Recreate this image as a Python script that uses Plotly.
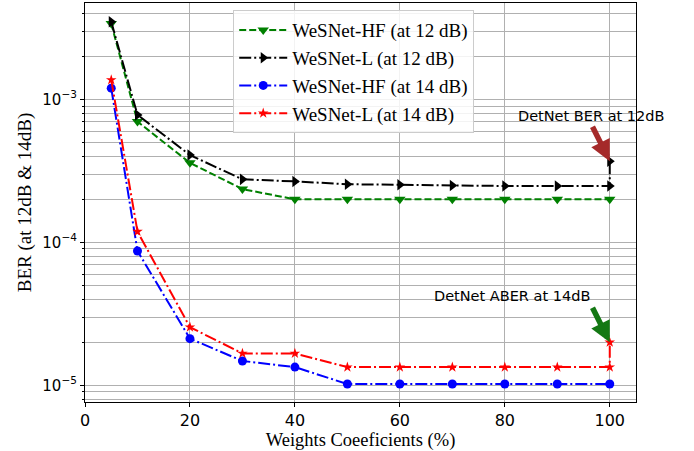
import math
import plotly.graph_objects as go

# Weight coefficients (%) kept in the compressed network
weights = [5, 10, 20, 30, 40, 50, 60, 70, 80, 90, 100]

# BER at 12 dB
hf_12 = [3.4e-3, 7.0e-4, 3.6e-4, 2.36e-4, 2.0e-4, 2.0e-4, 2.0e-4, 2.0e-4, 2.0e-4, 2.0e-4, 2.0e-4]
l_12 = [3.5e-3, 7.8e-4, 4.08e-4, 2.76e-4, 2.67e-4, 2.55e-4, 2.53e-4, 2.5e-4, 2.48e-4, 2.48e-4, 2.48e-4]

# BER at 14 dB
hf_14 = [1.2e-3, 8.7e-5, 2.12e-5, 1.48e-5, 1.34e-5, 1.02e-5, 1.02e-5, 1.02e-5, 1.02e-5, 1.02e-5, 1.02e-5]
l_14 = [1.37e-3, 1.19e-4, 2.55e-5, 1.67e-5, 1.67e-5, 1.34e-5, 1.34e-5, 1.34e-5, 1.34e-5, 1.34e-5, 1.34e-5]

# DetNet reference points (full network)
detnet_x = 100
detnet_ber_12 = 3.7e-4
detnet_aber_14 = 2.0e-5

y_ticks = [1e-5, 1e-4, 1e-3]
y_ticktext = ["10<sup>\u22125</sup>", "10<sup>\u22124</sup>", "10<sup>\u22123</sup>"]
y_minor = [m * 10.0 ** e for e in range(-6, -1) for m in range(2, 10)]
x_ticks = [0, 20, 40, 60, 80, 100]

serif = "Liberation Serif"
sans = "DejaVu Sans"

dashdot = "12px,3px,2px,3px"

fig = go.Figure()

fig.add_trace(go.Scatter(
    x=weights, y=hf_12, name="WeSNet-HF (at 12 dB)", mode="lines+markers",
    line=dict(color="green", width=2, dash="7px,3px"),
    marker=dict(symbol="triangle-down", size=10, color="green"),
))
fig.add_trace(go.Scatter(
    x=weights + [detnet_x], y=l_12 + [detnet_ber_12], name="WeSNet-L (at 12 dB)",
    mode="lines+markers",
    line=dict(color="black", width=2, dash=dashdot),
    marker=dict(symbol="triangle-right", size=10, color="black"),
))
fig.add_trace(go.Scatter(
    x=weights, y=hf_14, name="WeSNet-HF (at 14 dB)", mode="lines+markers",
    line=dict(color="blue", width=2, dash=dashdot),
    marker=dict(symbol="circle", size=9, color="blue"),
))
fig.add_trace(go.Scatter(
    x=weights + [detnet_x], y=l_14 + [detnet_aber_14], name="WeSNet-L (at 14 dB)",
    mode="lines+markers",
    line=dict(color="red", width=2, dash=dashdot),
    marker=dict(symbol="star", size=8, color="red"),
))

grid = "#b0b0b0"

fig.update_layout(
    width=694, height=451,
    margin=dict(l=85, r=58, t=3, b=49, autoexpand=False),
    paper_bgcolor="white", plot_bgcolor="white",
    showlegend=True,
    legend=dict(
        x=0.269, y=0.982, xanchor="left", yanchor="top",
        font=dict(family=serif, size=19, color="black"),
        bgcolor="rgba(255,255,255,0.85)", bordercolor="#cccccc", borderwidth=1,
        tracegroupgap=0, itemwidth=48,
    ),
    xaxis=dict(
        range=[0, 105], tickvals=x_ticks,
        showgrid=True, gridcolor=grid, gridwidth=1,
        showline=True, linecolor="black", linewidth=1.2, mirror=True,
        ticks="outside", ticklen=4, tickcolor="black",
        tickfont=dict(family=sans, size=16, color="black"),
        zeroline=False,
        title=dict(text="Weights Coeeficients (%)", font=dict(family=serif, size=18.5, color="black"), standoff=5),
    ),
    yaxis=dict(
        type="log", range=[-5.117, -2.325],
        tickvals=y_ticks, ticktext=y_ticktext,
        showgrid=True, gridcolor=grid, gridwidth=1,
        minor=dict(tickmode="array", tickvals=y_minor, ticks="outside", ticklen=2,
                   tickcolor="black", showgrid=True, gridcolor=grid, gridwidth=1),
        showline=True, linecolor="black", linewidth=1.2, mirror=True,
        ticks="outside", ticklen=4, tickcolor="black",
        tickfont=dict(family=sans, size=15, color="black"),
        zeroline=False,
        title=dict(text="BER (at 12dB & 14dB)", font=dict(family=serif, size=19, color="black"), standoff=5),
    ),
)

# Arrows pointing at the DetNet reference points
fig.add_annotation(
    x=detnet_x, y=math.log10(detnet_ber_12), xref="x", yref="y",
    text="", showarrow=True, ax=-18, ay=-36,
    arrowhead=2, arrowsize=0.75, arrowwidth=5.5, arrowcolor="#a52a2a",
)
fig.add_annotation(
    x=detnet_x, y=math.log10(detnet_ber_12), xref="x", yref="y",
    text="DetNet BER at 12dB", showarrow=False, xshift=-19, yshift=45,
    font=dict(family=sans, size=14.5, color="black"),
)
fig.add_annotation(
    x=detnet_x, y=math.log10(detnet_aber_14), xref="x", yref="y",
    text="", showarrow=True, ax=-18, ay=-36,
    arrowhead=2, arrowsize=0.75, arrowwidth=5.5, arrowcolor="#147814",
)
fig.add_annotation(
    x=detnet_x, y=math.log10(detnet_aber_14), xref="x", yref="y",
    text="DetNet ABER at 14dB", showarrow=False, xshift=-98, yshift=46,
    font=dict(family=sans, size=14.5, color="black"),
)

fig.write_html("out.html")
